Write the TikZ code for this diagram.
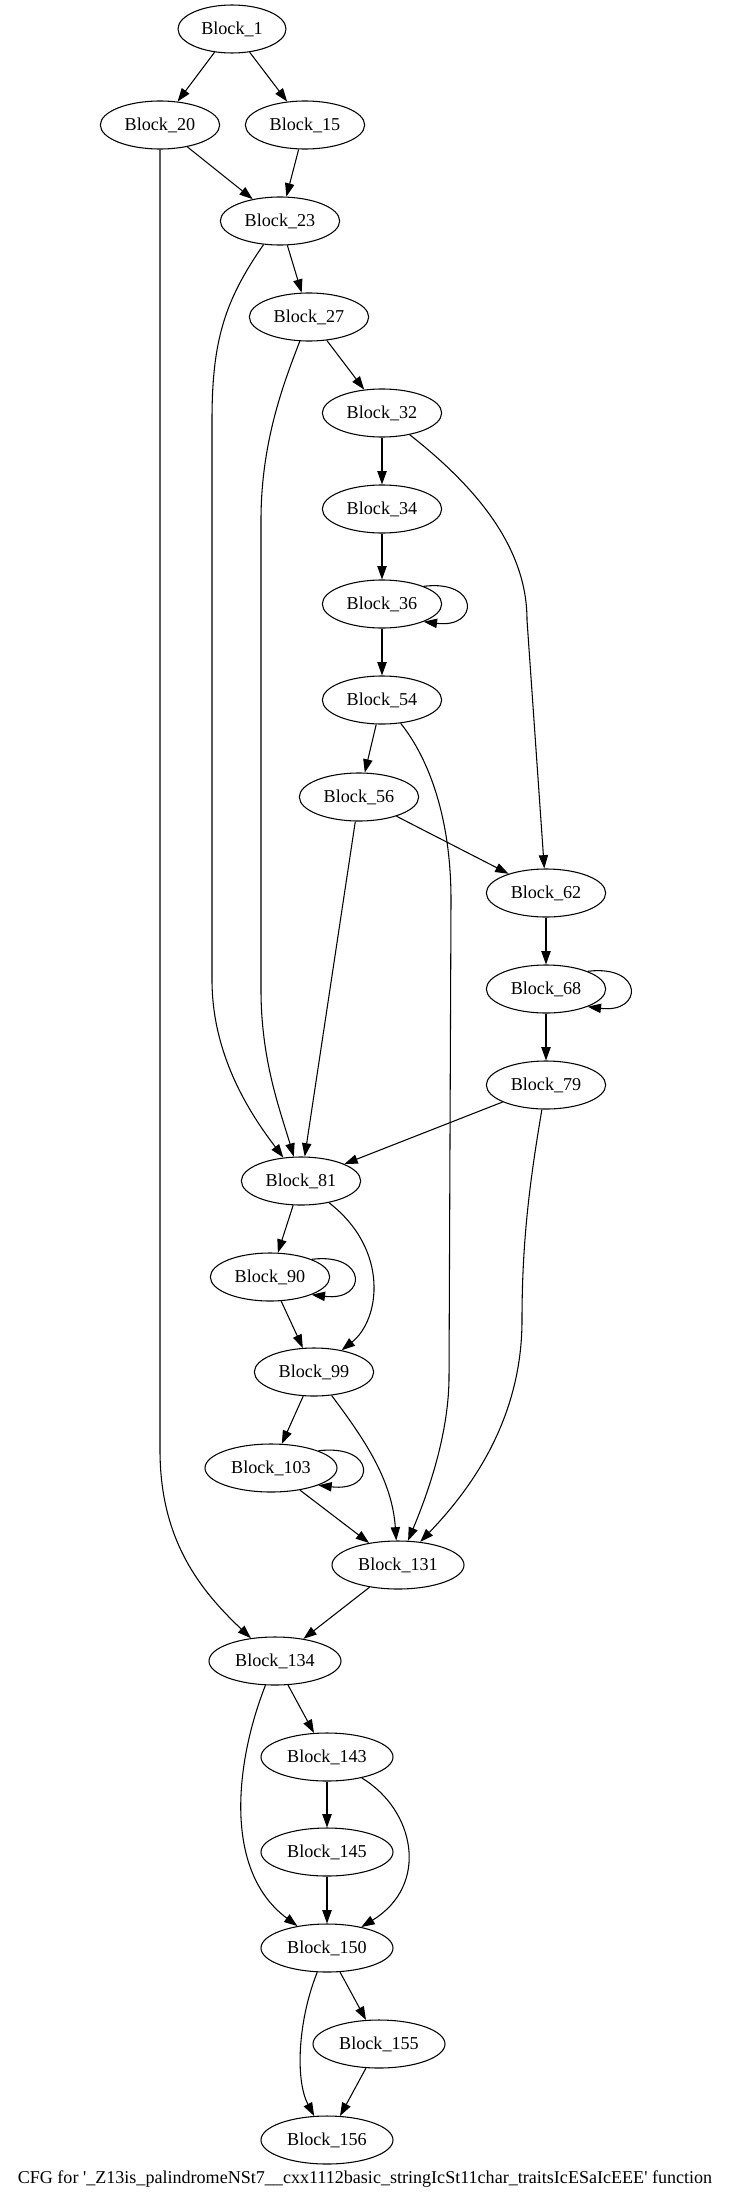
\documentclass[tikz,border=0pt]{standalone}
\usepackage{fontspec}
\setmainfont{Liberation Serif}
\usetikzlibrary{shapes.geometric, arrows.meta}

\begin{document}
\begin{tikzpicture}[x=0.75pt, y=-0.75pt]
    % 書式
    \tikzstyle{blk} = [draw, ellipse, line width=0.8pt, minimum width=89.5pt, minimum height=36pt, inner sep=0pt, font=\fontsize{13.6pt}{16pt}\selectfont]
    \tikzstyle{small} = [blk, minimum width=81pt]
    \tikzstyle{wide} = [blk, minimum width=99pt]
    \tikzstyle{link} = [draw, line width=0.8pt, -{Triangle[length=10pt, width=7pt]}]

    \useasboundingbox (0,0) rectangle (729,2201);

    % ブロック配置
    \node [small] (b1) at (232,29) {Block\_1};
    \node [blk] (b20) at (160,125) {Block\_20};
    \node [blk] (b15) at (305,125) {Block\_15};
    \node [blk] (b23) at (280,221) {Block\_23};
    \node [blk] (b27) at (309,317) {Block\_27};
    \node [blk] (b32) at (382,413) {Block\_32};
    \node [blk] (b34) at (382,509) {Block\_34};
    \node [blk] (b36) at (382,604) {Block\_36};
    \node [blk] (b54) at (382,700) {Block\_54};
    \node [blk] (b56) at (359,797) {Block\_56};
    \node [blk] (b62) at (546,893) {Block\_62};
    \node [blk] (b68) at (546,989) {Block\_68};
    \node [blk] (b79) at (546,1085) {Block\_79};
    \node [blk] (b81) at (301,1181) {Block\_81};
    \node [blk] (b90) at (270,1277) {Block\_90};
    \node [blk] (b99) at (314,1372) {Block\_99};
    \node [wide] (b103) at (271,1468) {Block\_103};
    \node [wide] (b131) at (398,1565) {Block\_131};
    \node [wide] (b134) at (275,1661) {Block\_134};
    \node [wide] (b143) at (327,1757) {Block\_143};
    \node [wide] (b145) at (327,1852) {Block\_145};
    \node [wide] (b150) at (327,1948) {Block\_150};
    \node [wide] (b155) at (379,2044) {Block\_155};
    \node [wide] (b156) at (327,2140) {Block\_156};
    \node [font=\fontsize{13.55pt}{16pt}\selectfont] (title) at (365,2179) {CFG for \textquotesingle\_Z13is\_palindromeNSt7\_\_cxx1112basic\_stringIcSt11char\_traitsIcESaIcEEE\textquotesingle{} function};

    % 辺
    \path [link] (b1) -- (b20);
    \path [link] (b1) -- (b15);
    \path [link] (b20) -- (b23);
    \path [link] (b15) -- (b23);
    \path [link] (b20) -- (160,1450) .. controls (160,1540) and (200,1590) .. (b134);
    \path [link] (b23) -- (b27);
    \path [link] (b23) .. controls (225,300) and (212,340) .. (212,420) -- (212,980) .. controls (212,1060) and (255,1120) .. (b81);
    \path [link] (b27) -- (b32);
    \path [link] (b27) .. controls (285,380) and (261,440) .. (261,520) -- (261,990) .. controls (261,1060) and (280,1110) .. (b81);
    \path [link] (b32) -- (b34);
    \path [link] (b32) .. controls (480,490) and (527,550) .. (527,620) -- (b62);
    \path [link] (b34) -- (b36);
    \path [link] (b36) -- (b54);
    \path [link] (b54) -- (b56);
    \path [link] (b54) .. controls (430,760) and (451,820) .. (451,900) -- (449,1380) .. controls (448,1440) and (425,1500) .. (b131);
    \path [link] (b56) -- (b81);
    \path [link] (b56) -- (b62);
    \path [link] (b62) -- (b68);
    \path [link] (b68) -- (b79);
    \path [link] (b79) -- (b81);
    \path [link] (b79) .. controls (530,1180) and (522,1240) .. (522,1320) .. controls (522,1420) and (470,1490) .. (b131);
    \path [link] (b81) -- (b90);
    \path [link] (b81) .. controls (390,1250) and (380,1320) .. (b99);
    \path [link] (b90) -- (b99);
    \path [link] (b99) -- (b103);
    \path [link] (b99) .. controls (365,1440) and (392,1480) .. (b131);
    \path [link] (b103) -- (b131);
    \path [link] (b131) -- (b134);
    \path [link] (b134) -- (b143);
    \path [link] (b134) .. controls (236,1760) and (222,1870) .. (b150);
    \path [link] (b143) -- (b145);
    \path [link] (b143) .. controls (415,1810) and (430,1885) .. (b150);
    \path [link] (b145) -- (b150);
    \path [link] (b150) -- (b155);
    \path [link] (b150) .. controls (298,2020) and (295,2080) .. (b156);
    \path [link] (b155) -- (b156);

    % 自己ループ
    \path [link] (b36.23) .. controls +(56,-7) and +(56,7) .. (b36.-23);
    \path [link] (b68.23) .. controls +(56,-7) and +(56,7) .. (b68.-23);
    \path [link] (b90.23) .. controls +(56,-7) and +(56,7) .. (b90.-23);
    \path [link] (b103.20) .. controls +(58,-7) and +(58,7) .. (b103.-20);
\end{tikzpicture}
\end{document}
